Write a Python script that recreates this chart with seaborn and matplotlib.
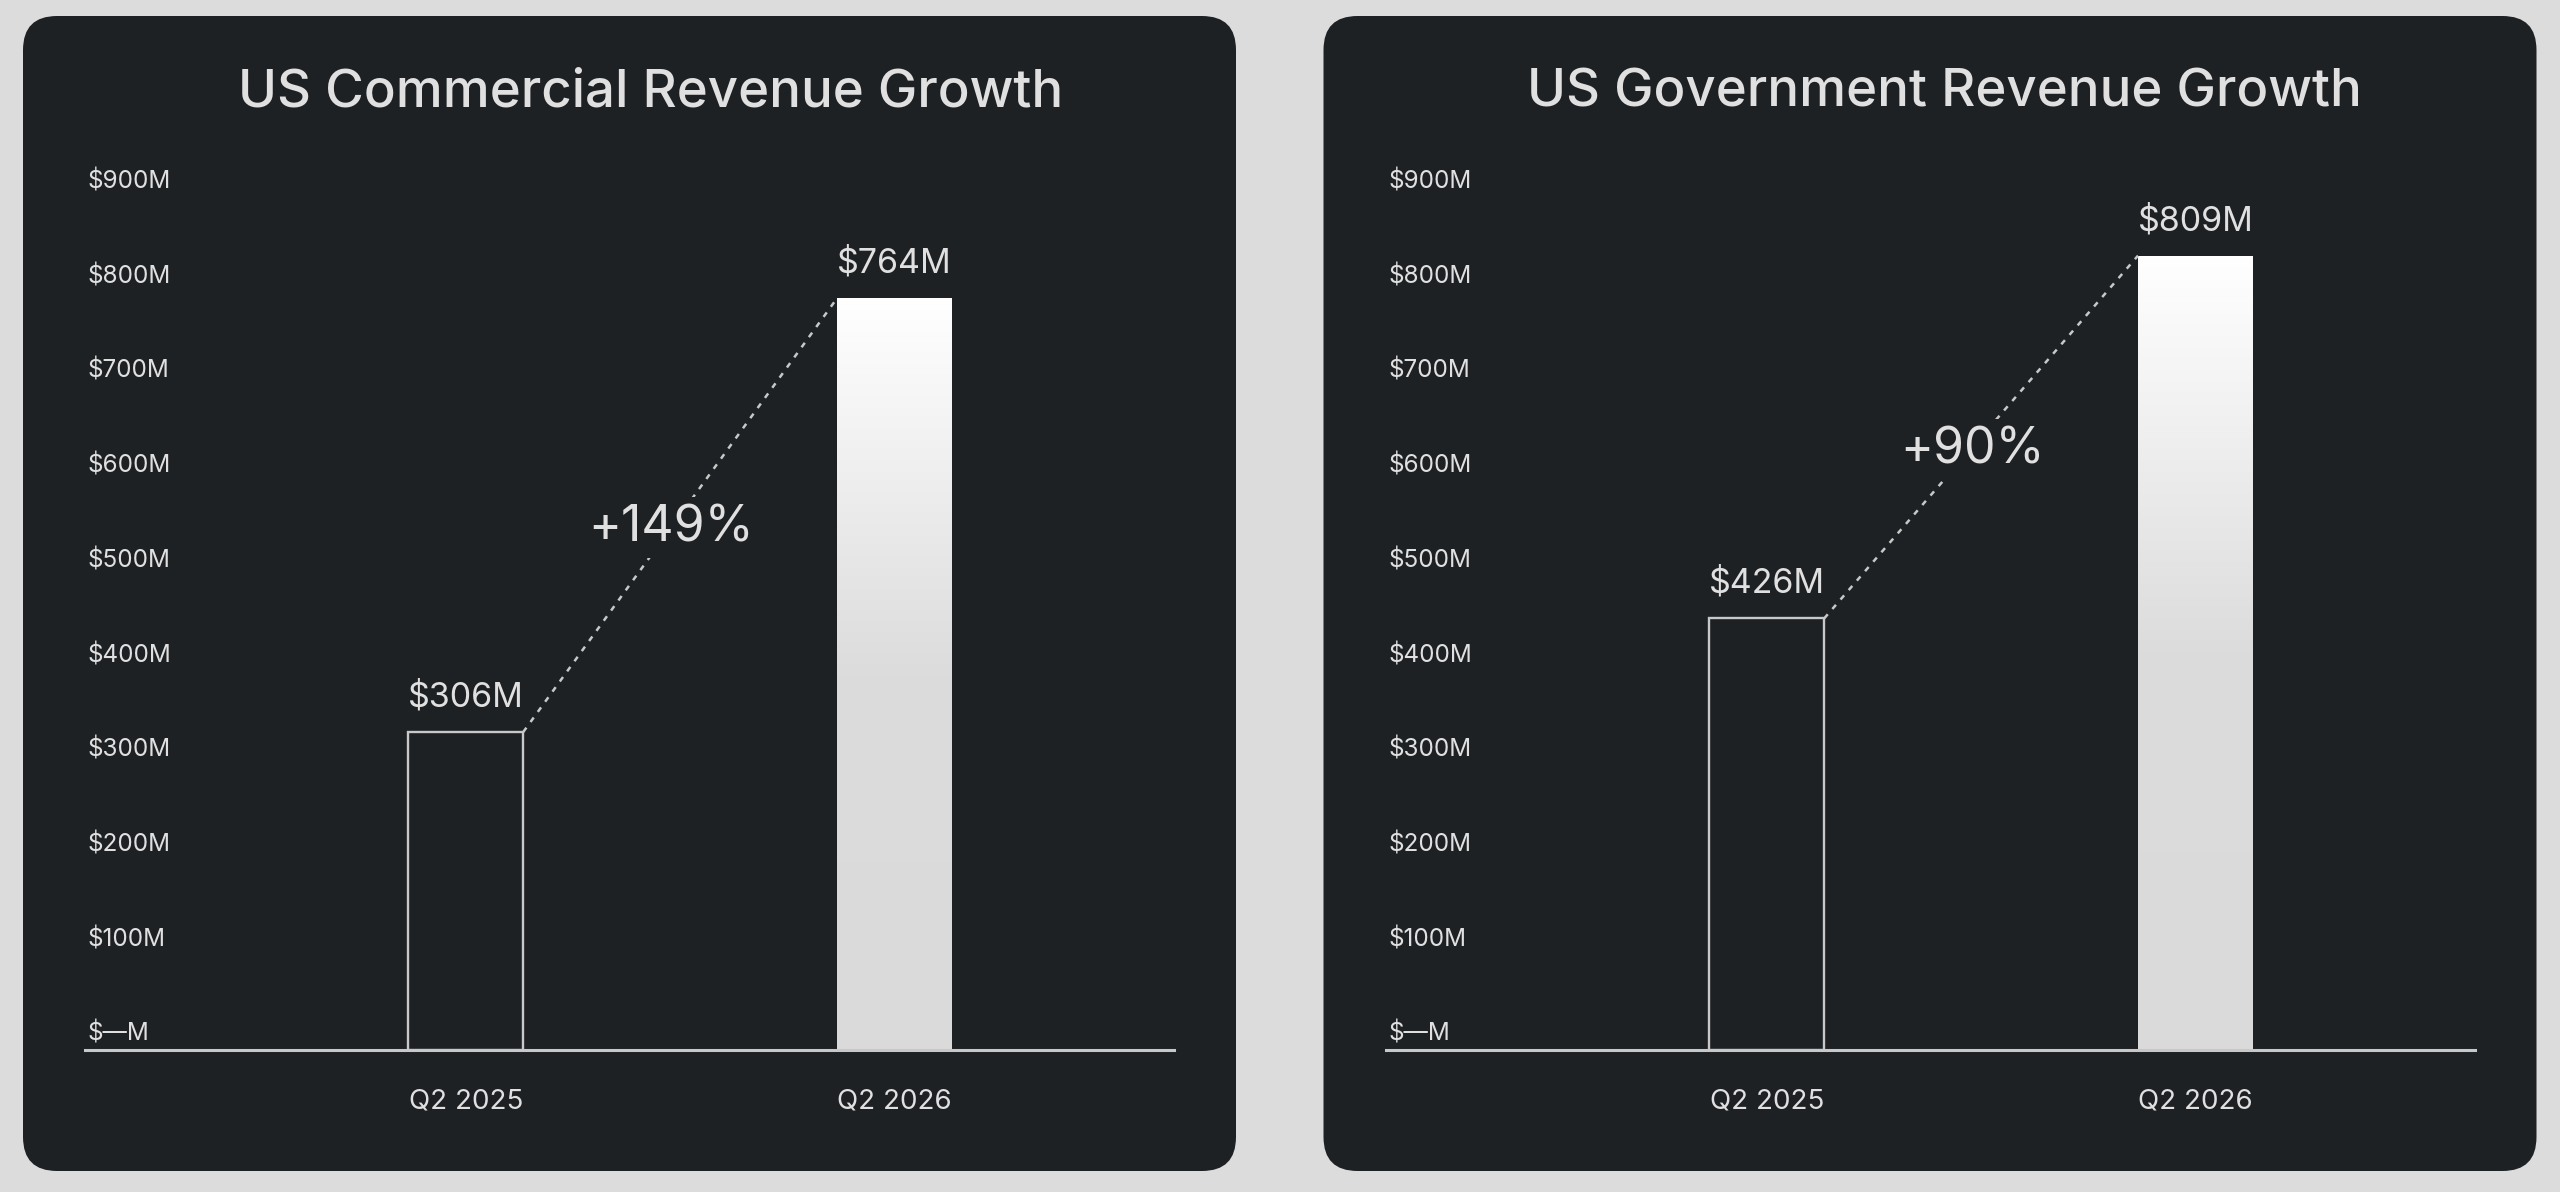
"""
US Commercial vs US Government revenue growth, Q2 2025 -> Q2 2026.
Two dark rounded cards, each with a hollow bar, a gradient bar and a dotted growth line.
"""

import matplotlib.pyplot as plt
import numpy as np
import seaborn as sns
from matplotlib.colors import LinearSegmentedColormap
from matplotlib.patches import FancyBboxPatch

# ------------------------------------------------------------------------------
# Data
# ------------------------------------------------------------------------------
quarters = ["Q2 2025", "Q2 2026"]
commercial_revenue = [306, 764]
government_revenue = [426, 809]
commercial_growth = "+149%"
government_growth = "+90%"
titles = ["US Commercial Revenue Growth", "US Government Revenue Growth"]
y_ticks = [0, 100, 200, 300, 400, 500, 600, 700, 800, 900]
y_tick_labels = ["$—M"] + [f"${v}M" for v in y_ticks[1:]]

# ------------------------------------------------------------------------------
# Style
# ------------------------------------------------------------------------------
PAGE_BG = "#dcdcdc"
CARD_BG = "#1e2124"
TEXT = "#e0e0e0"
AXIS = "#c8c8c8"

# the axis floor sits a little below zero; bars stand on the floor
Y_MIN, Y_MAX = -29.6, 949

sns.set_style("dark")
plt.rcParams["font.family"] = ["Inter", "DejaVu Sans"]

fig = plt.figure(figsize=(25.6, 11.92), dpi=100)
fig.patch.set_facecolor(PAGE_BG)

# rounded cards, drawn in inches so the corners stay circular
for card_x in (0.23, 13.235):
    fig.patches.append(
        FancyBboxPatch(
            (card_x, 0.21), 12.13, 11.55,
            boxstyle="round,pad=0,rounding_size=0.34",
            transform=fig.dpi_scale_trans,
            facecolor=CARD_BG, edgecolor="none", zorder=-1,
        )
    )

grad_cmap = LinearSegmentedColormap.from_list(
    "bar_grad", [(0.0, "#dadada"), (0.5, "#dcdcdc"), (1.0, "#ffffff")]
)

panels = [
    (commercial_revenue, commercial_growth, 0.0332, 651 / 2560),
    (government_revenue, government_growth, 0.5414, 1944 / 2560),
]
bar_width = 0.268

for (values, growth, ax_left, title_x), title in zip(panels, titles):
    ax = fig.add_axes([ax_left, 0.1191, 0.4254, 0.7777])
    ax.set_facecolor("none")

    sns.barplot(x=quarters, y=values, ax=ax, width=bar_width, color=CARD_BG)
    # extend each bar down to the axis floor
    for patch, v in zip(ax.patches, values):
        patch.set_y(Y_MIN)
        patch.set_height(v - Y_MIN)
    old, new = ax.patches[0], ax.patches[1]

    # older quarter: hollow outlined bar
    old.set_facecolor(CARD_BG)
    old.set_edgecolor(AXIS)
    old.set_linewidth(1.7)

    # newer quarter: white-to-grey vertical gradient clipped to the bar
    new.set_facecolor("none")
    new.set_edgecolor("none")
    x0, y0 = new.get_x(), new.get_y()
    x1, y1 = x0 + new.get_width(), y0 + new.get_height()
    grad = np.linspace(0, 1, 256).reshape(-1, 1)
    img = ax.imshow(grad, cmap=grad_cmap, origin="lower", aspect="auto",
                    extent=[x0, x1, y0, y1], zorder=2)
    img.set_clip_path(new)

    ax.set_xlim(-0.888, 1.652)
    ax.set_ylim(Y_MIN, Y_MAX)

    # value labels above the bars
    for i, v in enumerate(values):
        ax.annotate(f"${v}M", (i, v), xytext=(0, 25), textcoords="offset points",
                    ha="center", va="center", fontsize=24.5, color=TEXT)

    # dotted growth line from top-right of old bar to top-left of new bar
    ax.plot([bar_width / 2, 1 - bar_width / 2], values,
            color=AXIS, lw=1.8, dashes=(2.2, 2.8), zorder=3)
    ax.annotate(growth, (0.48, sum(values) / 2), xytext=(0, -9),
                textcoords="offset points", ha="center", va="center",
                fontsize=36, color=TEXT, zorder=4,
                bbox=dict(boxstyle="square,pad=0.14", facecolor=CARD_BG, edgecolor="none"))

    # axes cosmetics
    for side in ("top", "right", "left"):
        ax.spines[side].set_visible(False)
    ax.spines["bottom"].set_color(AXIS)
    ax.spines["bottom"].set_linewidth(2.2)
    ax.grid(False)
    ax.set_xlabel("")
    ax.set_ylabel("")

    # y labels flush with the axis start, hanging just under their value
    ax.set_yticks(y_ticks)
    ax.set_yticklabels(y_tick_labels)
    ax.tick_params(axis="y", length=0, pad=-2, labelsize=17.5, labelcolor=TEXT)
    for lbl in ax.get_yticklabels():
        lbl.set_horizontalalignment("left")
        lbl.set_verticalalignment("top")
    ax.tick_params(axis="x", length=0, pad=28, labelsize=20, labelcolor=TEXT)

    fig.text(title_x, 1 - 93 / 1192, title, ha="center", va="center",
             fontsize=38, fontweight="medium", color=TEXT)

fig.savefig("out.png", dpi=100, facecolor=fig.get_facecolor())
